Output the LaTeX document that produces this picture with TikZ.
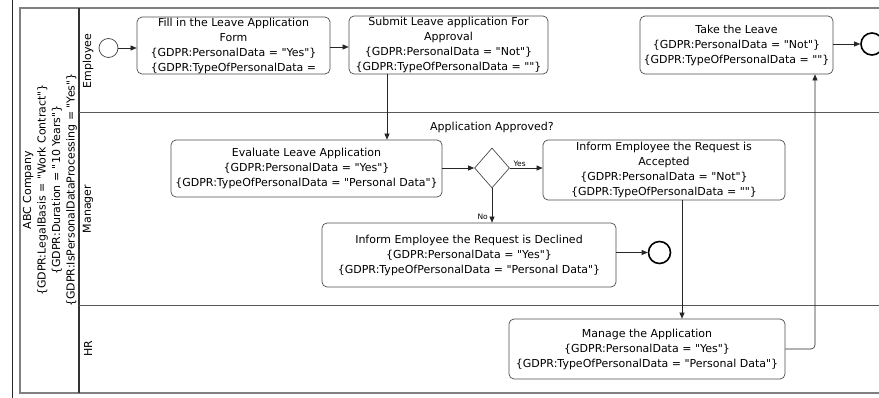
\documentclass[tikz,border=0pt]{standalone}
\usepackage{fontspec}
\setmainfont{DejaVu Sans}[Ligatures=TeXOff]
\usetikzlibrary{arrows.meta, positioning, shapes.geometric}
\usepackage{xcolor}

\tikzset{
  task/.style={draw=black!70, line width=0.7pt, rounded corners=5pt, align=center, inner sep=0pt, font=\fontsize{11}{15}\selectfont},
  gate/.style={draw=black!70, line width=0.7pt, diamond, minimum width=35pt, minimum height=40pt, inner sep=0pt},
  startev/.style={draw=black!75, line width=0.7pt, circle, minimum size=19pt, inner sep=0pt},
  endev/.style={draw=black, circle, line width=1.6pt, minimum size=22pt, inner sep=0pt},
  flow/.style={draw=black!85, line width=0.6pt, -{Triangle[length=6pt,width=5pt]}},
  lanelbl/.style={rotate=90, align=center, font=\fontsize{11}{14.5}\selectfont},
  small/.style={font=\fontsize{7.5}{9}\selectfont, inner sep=1pt},
}

\begin{document}
\begin{tikzpicture}[x=1pt, y=-1pt]
  \useasboundingbox (0,0) rectangle (879,398);
  \clip (0,0) rectangle (879,398);

  % pool and lanes
  \draw[black!85] (12,0) -- (12,398);
  \draw[black!50, line width=1.4pt] (20,8) rectangle (900,393);
  \draw[black!80, line width=1.8pt] (79,8) -- (79,393);
  \draw[black!65, line width=0.7pt] (79,112) -- (900,112);
  \draw[black!65, line width=0.7pt] (79,305.5) -- (900,305.5);

  \node[lanelbl] (pool) at (50,190) {ABC Company\\
    \{GDPR:LegalBasis = "Work Contract"\}\\
    \{GDPR:Duration = "10 Years"\}\\
    \{GDPR:IsPersonalDataProcessing = "Yes"\}};
  \node[lanelbl] (emp) at (88,61) {Employee};
  \node[lanelbl] (mgr) at (88,209) {Manager};
  \node[lanelbl] (hr) at (88,349) {HR};

  % employee lane
  \node[startev] (start) at (108.5,48) {};
  \node[task, minimum width=193pt, minimum height=57pt] (fill) at (233.5,45.5)
    {Fill in the Leave Application\\Form\\\{GDPR:PersonalData = "Yes"\}\\\{GDPR:TypeOfPersonalData =};
  \node[task, minimum width=199pt, minimum height=58pt] (submit) at (448.5,45)
    {Submit Leave application For\\Approval\\\{GDPR:PersonalData = "Not"\}\\\{GDPR:TypeOfPersonalData = ""\}};
  \node[task, minimum width=193pt, minimum height=58pt] (take) at (736.5,45)
    {Take the Leave\\\{GDPR:PersonalData = "Not"\}\\\{GDPR:TypeOfPersonalData = ""\}};
  \node[endev] (end1) at (872,44) {};

  % manager lane
  \node[task, minimum width=271pt, minimum height=57pt] (eval) at (306.5,168.5)
    {Evaluate Leave Application\\\{GDPR:PersonalData = "Yes"\}\\\{GDPR:TypeOfPersonalData = "Personal Data"\}};
  \node[gate] (gate) at (492,168) {};
  \node[font=\fontsize{11}{13}\selectfont] (gatelbl) at (492,127) {Application Approved?};
  \node[task, minimum width=242pt, minimum height=60pt] (acc) at (664,170)
    {Inform Employee the Request is\\Accepted\\\{GDPR:PersonalData = "Not"\}\\\{GDPR:TypeOfPersonalData = ""\}};
  \node[task, minimum width=294pt, minimum height=64pt] (decl) at (469,255)
    {Inform Employee the Request is Declined\\\{GDPR:PersonalData = "Yes"\}\\\{GDPR:TypeOfPersonalData = "Personal Data"\}};
  \node[endev] (end2) at (659.5,252.5) {};

  % hr lane
  \node[task, minimum width=276pt, minimum height=60pt] (mng) at (647,349)
    {Manage the Application\\\{GDPR:PersonalData = "Yes"\}\\\{GDPR:TypeOfPersonalData = "Personal Data"\}};

  % flows
  \coordinate (c1) at (387,0);
  \coordinate (c2) at (682,0);
  \coordinate (c3) at (815,0);
  \draw[flow] (start.east) -- (start.east -| fill.west);
  \draw[flow] (fill.east |- 0,47) -- (submit.west |- 0,47);
  \draw[flow] (submit.south -| c1) -- (eval.north -| c1);
  \draw[flow] (eval.east |- gate) -- (gate.west);
  \draw[flow] (gate.east) -- node[small, above, pos=0.3] {Yes} (gate.east -| acc.west);
  \draw[flow] (gate.south) -- node[small, left=3pt, pos=0.82] {No} (gate.south |- decl.north);
  \draw[flow] (decl.east |- end2) -- (end2.west);
  \draw[flow] (acc.south -| c2) -- (mng.north -| c2);
  \draw[flow, rounded corners=4pt] (mng.east) -| (take.south -| c3);
  \draw[flow] (take.east |- end1) -- (end1.west);
\end{tikzpicture}
\end{document}
